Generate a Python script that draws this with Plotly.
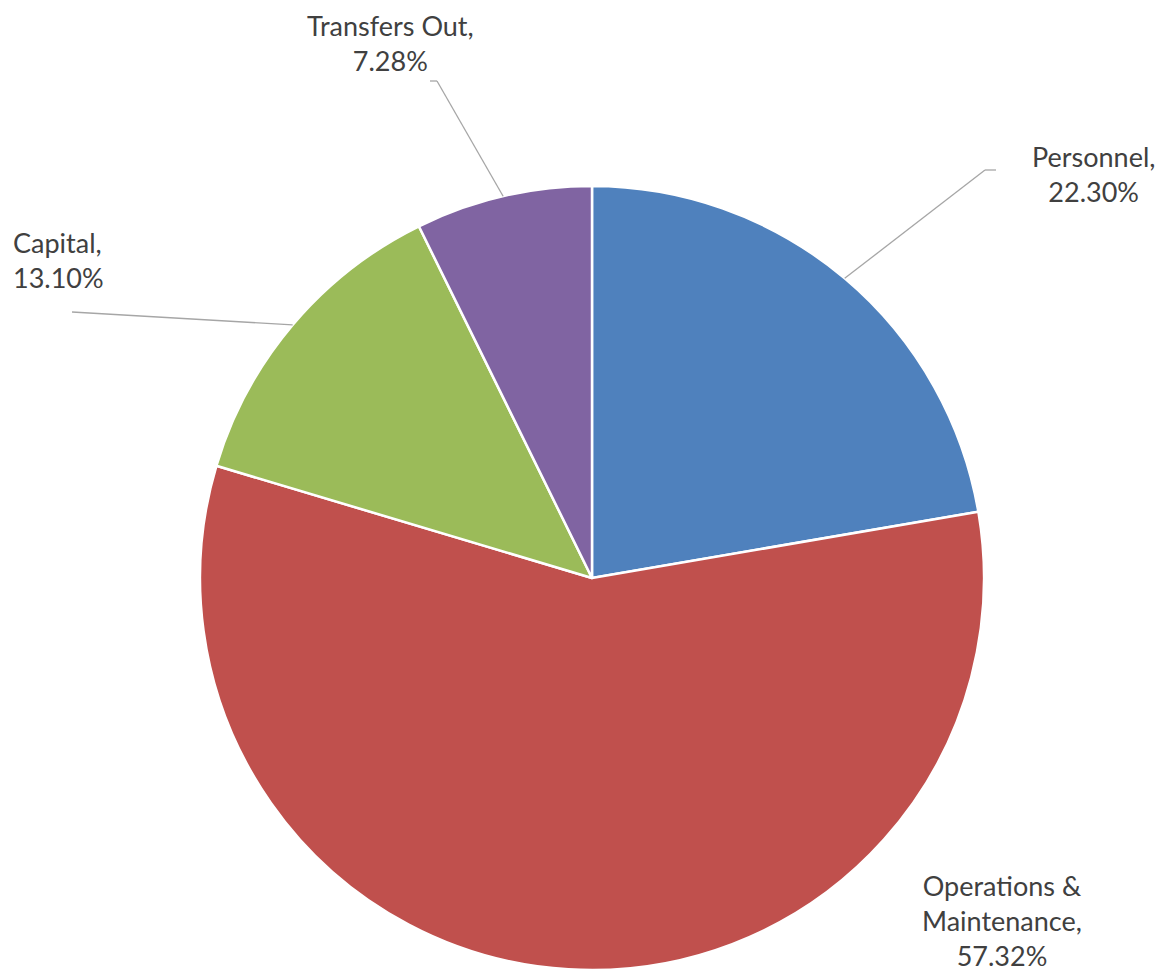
import math
import plotly.graph_objects as go

# Budget share by category
categories = ["Personnel", "Operations &<br>Maintenance", "Capital", "Transfers Out"]
shares = [22.30, 57.32, 13.10, 7.28]
colors = ["#4F81BD", "#C0504D", "#9BBB59", "#8064A2"]

W, H = 1163, 973
CX, CY, R = 592, 578, 392  # pie centre and radius in pixels

fig = go.Figure()
fig.add_trace(go.Pie(
    labels=categories,
    values=shares,
    sort=False,
    direction="clockwise",
    rotation=0,
    marker=dict(colors=colors, line=dict(color="white", width=2.5)),
    textinfo="none",
    hoverinfo="label+value",
    showlegend=False,
    domain=dict(x=[(CX - R) / W, (CX + R) / W],
                y=[(H - CY - R) / H, (H - CY + R) / H]),
))

# mid-angle point on the rim of each slice (clockwise from 12 o'clock)
total = sum(shares)
rim = []
acc = 0.0
for v in shares:
    mid = (acc + v / 2) / total * 2 * math.pi
    rim.append((CX + R * math.sin(mid), CY - R * math.cos(mid)))
    acc += v

# label placement: (x, y, xanchor, align) and leader-line elbow points
label_pos = [
    (1093, 174, "center", "center"),
    (1002, 920, "center", "center"),
    (11, 260, "left", "left"),
    (390, 43, "center", "center"),
]
leaders = [
    [(985, 170), (996, 170)],
    None,
    [(72, 312)],
    [(437, 81), (430, 81)],
]

annotations = []
for name, v, (x, y, xa, al) in zip(categories, shares, label_pos):
    annotations.append(dict(
        x=x, y=y, xref="x", yref="y", xanchor=xa, yanchor="middle", align=al,
        text=f"{name},<br>{v:.2f}%", showarrow=False,
        font=dict(family="Lato", size=27, color="#404040"),
    ))

shapes = []
for pt, path in zip(rim, leaders):
    if not path:
        continue
    pts = [pt] + path
    for (x0, y0), (x1, y1) in zip(pts[:-1], pts[1:]):
        shapes.append(dict(type="line", xref="x", yref="y",
                           x0=x0, y0=y0, x1=x1, y1=y1,
                           line=dict(color="#A6A6A6", width=1.3)))

fig.update_layout(
    width=W, height=H,
    margin=dict(l=0, r=0, t=0, b=0),
    paper_bgcolor="white", plot_bgcolor="rgba(0,0,0,0)",
    xaxis=dict(range=[0, W], visible=False, fixedrange=True),
    yaxis=dict(range=[H, 0], visible=False, fixedrange=True),
    annotations=annotations,
    shapes=shapes,
)

fig.write_html("out.html")
